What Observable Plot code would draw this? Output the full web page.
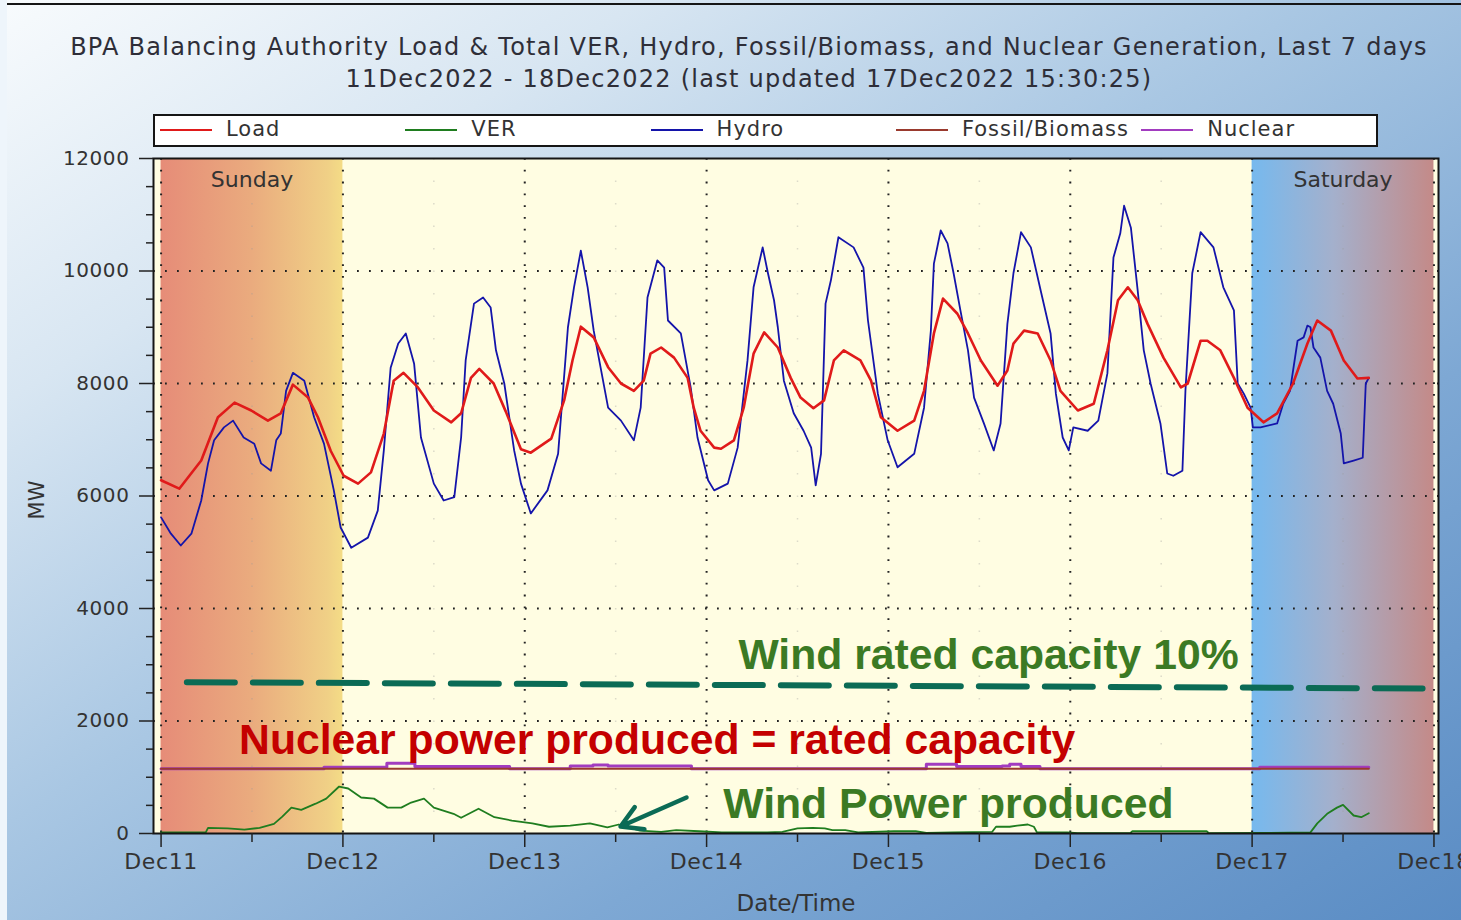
<!DOCTYPE html>
<html>
<head>
<meta charset="utf-8">
<script src="https://cdn.jsdelivr.net/npm/d3@7"></script>
<script src="https://cdn.jsdelivr.net/npm/@observablehq/plot@0.6"></script>
<style>
html, body { margin: 0; padding: 0; }
body {
  width: 1461px; height: 920px; overflow: hidden; position: relative;
  font-family: "DejaVu Sans", Verdana, sans-serif; color: #333;
  background: linear-gradient(to bottom right, #f8fbfd 0%, #d8e6f2 22%, #a9c7e3 45%, #7ea8d4 70%, #5a8cc4 100%);
}
#chart { position: absolute; left: 0; top: 0; }
#leftstrip { position: absolute; left: 0; top: 0; width: 7px; height: 920px; background: #eef5fb; }
#topline { position: absolute; left: 7px; top: 3px; width: 1454px; height: 2px; background: #151515; }
.title { position: absolute; left: 0; width: 1498px; text-align: center; font-size: 24px; line-height: 32px; letter-spacing: 1.25px; white-space: nowrap; color: #2e2e38; }
#legend { position: absolute; left: 153px; top: 114px; width: 1225px; height: 33px; box-sizing: border-box; border: 2px solid #151515; background: #fff; }
.lgline { position: absolute; height: 2px; width: 52px; }
.lgtext { position: absolute; font-size: 21px; line-height: 21px; letter-spacing: 1px; white-space: nowrap; color: #333; }
#mw { position: absolute; left: 7px; top: 488px; width: 60px; height: 24px; text-align: center; font-size: 21px; line-height: 24px; transform: rotate(-90deg); color: #333; }
#xlabel { position: absolute; left: 646px; top: 892px; width: 300px; text-align: center; font-size: 23px; line-height: 23px; color: #333; }
svg [aria-label="y-axis tick label"] text { letter-spacing: 0.6px; }
svg [aria-label="x-axis tick label"] text { letter-spacing: 0.6px; }
</style>
</head>
<body>
<div id="chart"></div>
<div id="leftstrip"></div>
<div id="topline"></div>
<div class="title" style="top:31px">BPA Balancing Authority Load &amp; Total VER, Hydro, Fossil/Biomass, and Nuclear Generation, Last 7 days</div>
<div class="title" style="top:63px">11Dec2022 - 18Dec2022 (last updated 17Dec2022 15:30:25)</div>
<div id="legend"></div>
<div id="mw">MW</div>
<div id="xlabel">Date/Time</div>
<script>
// ---------- data (hours since Dec11 00:00, MW) ----------
const dayTicks = [0, 24, 48, 72, 96, 120, 144, 168];
const dayLabels = ["Dec11", "Dec12", "Dec13", "Dec14", "Dec15", "Dec16", "Dec17", "Dec18"];
const noonTicks = [12, 36, 60, 84, 108, 132, 156];
const yMajor = [0, 2000, 4000, 6000, 8000, 10000, 12000];
const yGrid = [2000, 4000, 6000, 8000, 10000];
const yMinor = [500, 1000, 1500, 2500, 3000, 3500, 4500, 5000, 5500, 6500, 7000, 7500, 8500, 9000, 9500, 10500, 11000, 11500];

const seriesNames = ["Load", "VER", "Hydro", "Fossil/Biomass", "Nuclear"];
const seriesColors = ["#e01a1a", "#1f7d1f", "#1414aa", "#9a3a2e", "#a23cc0"];

const loadSeries = [[0,6280],[2.4,6130],[5.3,6630],[7.5,7400],[9.7,7660],[11.9,7520],[14.1,7340],[15.8,7470],[17.4,7980],[19.4,7750],[20.7,7400],[22.4,6800],[24.1,6360],[26,6220],[27.7,6420],[29.4,7110],[30.7,8050],[32,8190],[33.9,7930],[36,7520],[38.3,7310],[39.6,7470],[40.9,8100],[42,8260],[43.9,8000],[45.5,7500],[47.5,6830],[48.8,6770],[51.5,7020],[53.2,7700],[54.3,8410],[55.4,9010],[57.1,8820],[59,8290],[60.7,8000],[62.4,7870],[63.7,8050],[64.6,8530],[66,8640],[67.7,8460],[69.5,8100],[70.3,7570],[71.2,7160],[73,6860],[73.9,6840],[75.6,6990],[76.9,7570],[78.2,8530],[79.6,8910],[81.4,8640],[83.1,8100],[84.4,7750],[86.1,7560],[87.5,7700],[88.8,8410],[90.1,8590],[92.3,8410],[93.7,8050],[95,7400],[97.2,7160],[99.4,7340],[100.7,7870],[102,8890],[103.2,9510],[105.1,9240],[106.5,8890],[108.2,8410],[110.4,7960],[111.7,8230],[112.5,8710],[113.9,8940],[115.7,8890],[117.4,8410],[118.7,7870],[121,7520],[123.1,7640],[124.9,8590],[126.3,9480],[127.6,9710],[128.9,9480],[130.2,9060],[132.3,8460],[134.6,7930],[135.5,8000],[137.2,8760],[138.1,8760],[139.8,8590],[141.6,8100],[143.4,7570],[145.5,7310],[147.3,7470],[149.4,8000],[151.3,8710],[152.6,9120],[154.4,8940],[156.1,8410],[157.9,8090],[159.4,8100]];

const hydroSeries = [[0,5620],[1.3,5330],[2.6,5120],[4,5330],[5.3,5920],[6.2,6580],[7,6990],[8.3,7220],[9.5,7340],[10.9,7040],[12.3,6930],[13.2,6580],[14.5,6450],[15.2,6990],[15.8,7110],[16.5,7870],[17.4,8190],[18.9,8050],[20.2,7400],[21.5,6930],[22.8,6100],[23.7,5440],[25.1,5080],[27.3,5260],[28.6,5740],[29.4,6810],[30.3,8280],[31.3,8710],[32.3,8890],[33.4,8350],[34.3,7040],[36,6220],[37.3,5920],[38.7,5980],[39.6,7040],[40.2,8410],[41.3,9420],[42.5,9530],[43.5,9350],[44.2,8590],[45.3,8000],[46.6,6810],[47.5,6220],[48.8,5690],[51,6100],[52.4,6750],[53.7,9000],[54.5,9710],[55.4,10360],[56.3,9710],[57.1,8940],[59,7570],[60.7,7340],[62.4,6990],[63.3,7570],[64.2,9530],[65.5,10190],[66.4,10060],[66.9,9120],[68.6,8890],[69.9,7930],[70.8,7040],[72.2,6280],[73,6100],[74.8,6220],[76.1,6860],[77.4,8410],[78.2,9710],[79.4,10420],[80.1,9960],[80.9,9480],[81.4,9000],[82.2,8050],[83.5,7470],[84.8,7160],[85.8,6860],[86.4,6190],[87.1,6750],[87.7,9420],[88.4,9830],[89.4,10600],[91.4,10420],[92.7,10060],[93.3,9120],[94.6,7820],[95.9,6990],[97.2,6510],[99.4,6750],[100.7,7570],[101.6,8940],[102,10130],[102.9,10720],[103.8,10490],[104.6,9960],[105.5,9300],[106.5,8590],[107.3,7750],[108.6,7290],[109.9,6810],[110.8,7290],[111.7,9060],[112.5,9960],[113.5,10690],[114.8,10420],[116.1,9650],[117.4,8890],[118.1,7820],[119,7040],[119.8,6810],[120.4,7220],[122.3,7160],[123.7,7340],[124.9,8180],[125.7,10240],[126.6,10670],[127.1,11160],[128,10770],[128.9,9650],[129.7,8590],[130.6,8000],[131.9,7290],[132.8,6400],[133.6,6360],[134.8,6450],[135.2,7870],[136.1,9960],[137.2,10690],[138.9,10420],[140.2,9710],[141.6,9300],[142.1,8000],[142.9,7820],[143.8,7570],[144.1,7220],[145.1,7220],[147.3,7290],[148.1,7640],[149,7870],[150,8760],[150.8,8820],[151.3,9030],[151.7,9000],[152.1,8640],[153,8460],[153.9,7870],[154.7,7640],[155.7,7110],[156.1,6580],[157.4,6630],[158.6,6680],[159,8000],[159.4,8100]];

const verSeries = [[0,20],[5.9,20],[6.2,100],[8.8,90],[11,70],[13,100],[14.9,170],[16,300],[17.2,460],[18.5,420],[20.4,530],[21.8,620],[23.5,835],[24.7,800],[26.4,640],[28.1,620],[29.9,460],[31.7,460],[33,550],[34.7,620],[36,460],[38.6,350],[39.6,280],[41.9,440],[44,290],[46.3,230],[49,180],[51.2,120],[54,140],[56.6,180],[58.9,110],[60.4,160],[63.2,50],[66,30],[68,60],[71,40],[74,20],[80,20],[82,30],[84,90],[86,100],[87.6,90],[88.6,60],[90.3,60],[92,20],[96.7,40],[99.6,40],[101,10],[104.5,20],[109.7,30],[110.2,120],[112,120],[113,140],[114.4,160],[115.2,120],[115.6,20],[119.6,20],[121,5],[127.9,5],[128.2,40],[138,40],[138.3,5],[146,10],[151.7,20],[152.6,180],[153.9,350],[155.2,460],[156,510],[157.4,320],[158.4,290],[159.4,360]];

const fossilSeries = [[0,1150],[159.4,1150]];
const nuclearSeries = [[0,1150],[21.5,1180],[29.8,1250],[33.5,1190],[46,1150],[54,1200],[57,1220],[59,1200],[70,1150],[101,1230],[105,1190],[111,1200],[112,1230],[113.5,1190],[116,1150],[145,1180],[159.4,1180]];

const dayShades = [{from: 0, to: 24, fill: "url(#sunGrad)"}, {from: 144, to: 168, fill: "url(#satGrad)"}];
const dayNames = ["Sunday", "Saturday"];
const dayNameHours = [12, 156];
const dayNameMW = 11610;

const windCapLine = [[3.4, 2690], [166.5, 2578]];
const arrowFrom = [69.35, 640];
const arrowTo = [60.64, 124];

const noteText = ["Wind rated capacity 10%", "Nuclear power produced = rated capacity", "Wind Power produced"];
const noteHour = [76.2, 10.3, 74.2];
const noteMW = [2916, 1422, 284];
const noteColor = ["#3b7a24", "#c40000", "#3b7a24"];

// ---------- build ----------
const toRows = s => s.map(([h, v]) => ({h, v}));
const notes = noteText.map((t, i) => ({t, h: noteHour[i], v: noteMW[i], c: noteColor[i]}));
const names = dayNames.map((t, i) => ({t, h: dayNameHours[i], v: dayNameMW}));
const lineOpts = {x: "h", y: "v", strokeLinejoin: "round", strokeLinecap: "round"};

const chart = Plot.plot({
  width: 1461, height: 920,
  marginLeft: 153, marginRight: 23, marginTop: 158, marginBottom: 87,
  style: {background: "transparent", fontFamily: "DejaVu Sans, sans-serif", overflow: "visible"},
  x: {type: "linear", domain: [-1, 168.6], axis: null},
  y: {type: "linear", domain: [0, 12000], axis: null},
  marks: [
    Plot.frame({fill: "#fffde2"}),
    ...dayShades.map(d => Plot.rect([d], {x1: "from", x2: "to", y1: 0, y2: 12000, fill: d.fill})),
    Plot.ruleX(noonTicks, {stroke: "#9a9a9a", strokeOpacity: 0.35, strokeWidth: 1.5, strokeDasharray: "1.5,21"}),
    Plot.ruleY(yGrid, {stroke: "#222", strokeWidth: 2, strokeDasharray: "1.8,10.2"}),
    Plot.ruleX(dayTicks, {stroke: "#222", strokeWidth: 2, strokeDasharray: "1.8,10"}),
    Plot.text(names, {x: "h", y: "v", text: "t", fontSize: 22, fill: "#333", textAnchor: "middle"}),
    Plot.line(toRows(verSeries), {...lineOpts, stroke: seriesColors[1], strokeWidth: 1.8}),
    Plot.line(toRows(nuclearSeries), {...lineOpts, curve: "step-after", stroke: seriesColors[4], strokeWidth: 3}),
    Plot.line(toRows(fossilSeries), {...lineOpts, stroke: seriesColors[3], strokeWidth: 2}),
    Plot.line(toRows(hydroSeries), {...lineOpts, stroke: seriesColors[2], strokeWidth: 1.8}),
    Plot.line(toRows(loadSeries), {...lineOpts, stroke: seriesColors[0], strokeWidth: 2.6}),
    Plot.line(toRows(windCapLine), {x: "h", y: "v", stroke: "#0b6b55", strokeWidth: 6, strokeDasharray: "48,18"}),
    Plot.text(notes, {x: "h", y: "v", text: "t", fill: "c", fontSize: 42.7, fontWeight: "bold", fontFamily: "Liberation Sans, Arial, sans-serif", textAnchor: "start", lineAnchor: "bottom"}),
    Plot.arrow([{x1: arrowFrom[0], y1: arrowFrom[1], x2: arrowTo[0], y2: arrowTo[1]}], {x1: "x1", y1: "y1", x2: "x2", y2: "y2", stroke: "#0b6b55", strokeWidth: 4.5, headLength: 24}),
    Plot.frame({stroke: "#151515", strokeWidth: 2}),
    Plot.axisY({ticks: yMajor, tickSize: 14, tickPadding: 10, fontSize: 20, tickFormat: d => String(d), label: null, stroke: "#222", strokeWidth: 1.5, fill: "#333"}),
    Plot.axisY({ticks: yMinor, tickSize: 7, tickPadding: 0, tickFormat: () => "", label: null, stroke: "#222", strokeWidth: 1.5}),
    Plot.axisX({ticks: dayTicks, tickSize: 14, tickPadding: 6, fontSize: 22, tickFormat: d => dayLabels[dayTicks.indexOf(d)], label: null, stroke: "#222", strokeWidth: 1.5, fill: "#333"}),
    Plot.axisX({ticks: noonTicks, tickSize: 9, tickPadding: 0, tickFormat: () => "", label: null, stroke: "#222", strokeWidth: 1.5})
  ]
});

const ns = "http://www.w3.org/2000/svg";
const defs = document.createElementNS(ns, "defs");
defs.innerHTML =
  '<linearGradient id="sunGrad" x1="0" y1="0" x2="1" y2="0">' +
  '<stop offset="0" stop-color="#e68c78"/><stop offset="0.5" stop-color="#eaab7e"/><stop offset="0.92" stop-color="#f0d086"/><stop offset="1" stop-color="#f4dc86"/></linearGradient>' +
  '<linearGradient id="satGrad" x1="0" y1="0" x2="1" y2="0">' +
  '<stop offset="0" stop-color="#76b9ee"/><stop offset="0.45" stop-color="#a4b0cc"/><stop offset="1" stop-color="#c48a88"/></linearGradient>';
chart.insertBefore(defs, chart.firstChild);
document.getElementById("chart").appendChild(chart);

// legend
const legend = d3.select("#legend");
seriesNames.forEach((name, i) => {
  const off = 245.3 * i;
  legend.append("div").attr("class", "lgline")
    .style("left", (5 + off) + "px").style("top", "13px").style("background", seriesColors[i]);
  legend.append("div").attr("class", "lgtext")
    .style("left", (71 + off) + "px").style("top", "3px").text(name);
});
</script>
</body>
</html>
